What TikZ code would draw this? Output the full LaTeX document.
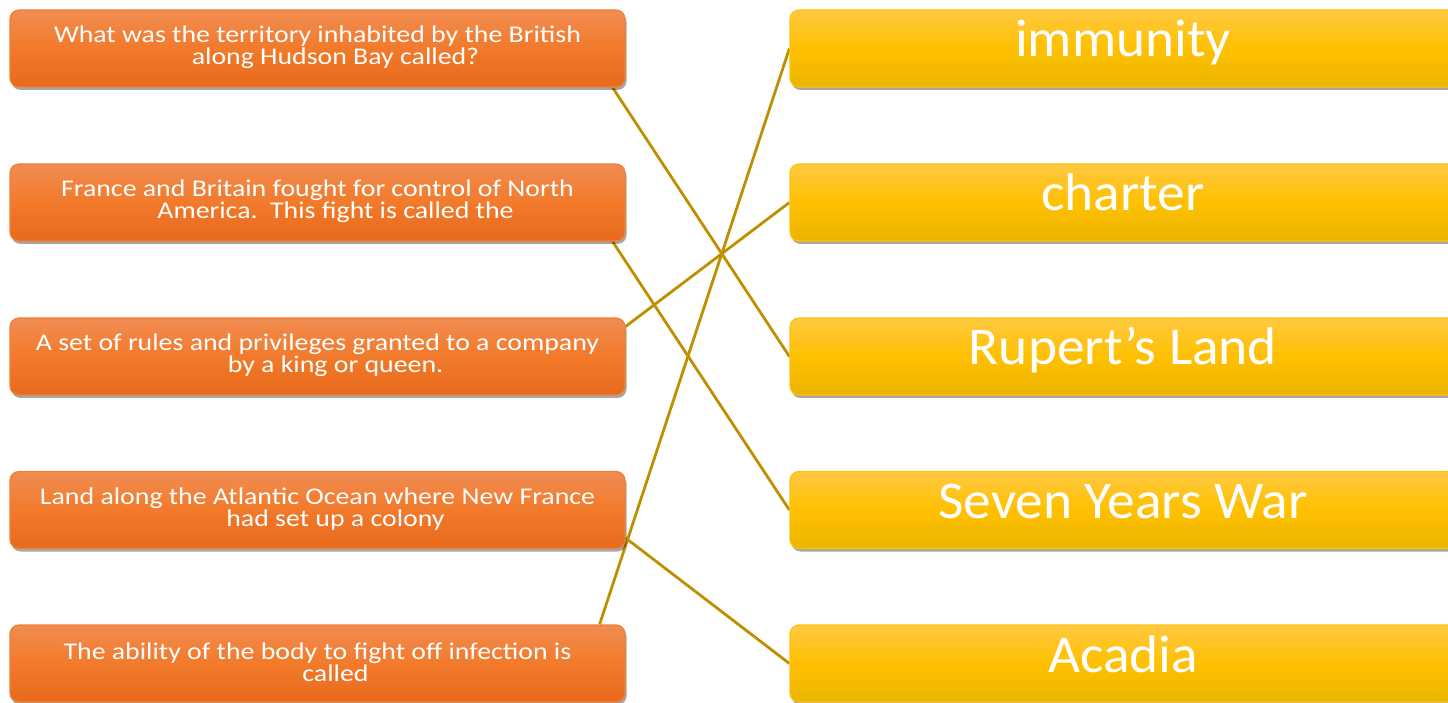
\documentclass[tikz,border=0pt]{standalone}
\usepackage{fontspec}
\setmainfont{Carlito}
\newfontfamily\qfont[FakeStretch=1.16]{Carlito}
\newfontfamily\afont[FakeStretch=1.045]{Carlito}
\usetikzlibrary{shadows,backgrounds,calc}
\definecolor{orTop}{RGB}{241,140,82}
\definecolor{orMid}{RGB}{242,122,42}
\definecolor{orBot}{RGB}{232,106,28}
\definecolor{orBorder}{RGB}{238,128,56}
\definecolor{yeTop}{RGB}{255,201,66}
\definecolor{yeMid}{RGB}{255,192,0}
\definecolor{yeBot}{RGB}{234,181,0}
\definecolor{yeBorder}{RGB}{255,194,10}
\definecolor{linkcol}{RGB}{191,143,0}
\tikzset{
  x=1pt,y=1pt,
  qbox/.style={rounded corners=9pt, minimum width=615pt, minimum height=77pt,
    top color=orTop, bottom color=orBot, middle color=orMid, draw=orBorder, line width=1.2pt,
    drop shadow={shadow xshift=1.5pt, shadow yshift=-3pt, opacity=0.35, fill=black}},
  abox/.style={rounded corners=9pt, minimum width=666pt, minimum height=77pt,
    top color=yeTop, bottom color=yeBot, middle color=yeMid, draw=yeBorder, line width=1.2pt,
    drop shadow={shadow xshift=1.5pt, shadow yshift=-3pt, opacity=0.35, fill=black}},
  qtext/.style={text=white, align=center, font=\qfont\fontsize{24}{22}\selectfont, inner sep=0pt},
  atext/.style={text=white, font=\afont\fontsize{53}{60}\selectfont, inner sep=0pt, text height=34pt, text depth=19pt},
  link/.style={draw=linkcol, line width=2.8pt}
}
\begin{document}
\begin{tikzpicture}
\useasboundingbox (0,0) rectangle (1448,702);
% question boxes
\node[qbox] (q1) at (317.5,653.5) {};
\node[qbox] (q2) at (317.5,499.5) {};
\node[qbox] (q3) at (317.5,345.5) {};
\node[qbox] (q4) at (317.5,192) {};
\node[qbox] (q5) at (317.5,38.5) {};
\node[qtext] (t1) at ($(q1.center)+(0,1)$) {What was the territory inhabited by the British\\\hspace*{36pt}along Hudson Bay called?};
\node[qtext] (t2) at ($(q2.center)+(0,1)$) {France and Britain fought for control of North\\\hspace*{36pt}America.\ \ This fight is called the};
\node[qtext] (t3) at ($(q3.center)+(0,1)$) {A set of rules and privileges granted to a company\\\hspace*{36pt}by a king or queen.};
\node[qtext] (t4) at ($(q4.center)+(0,1)$) {Land along the Atlantic Ocean where New France\\\hspace*{36pt}had set up a colony};
\node[qtext] (t5) at ($(q5.center)+(0,1)$) {The ability of the body to fight off infection is\\\hspace*{36pt}called};
% answer boxes
\node[abox] (a1) at (1123,653.5) {};
\node[abox] (a2) at (1123,499.5) {};
\node[abox] (a3) at (1123,345.5) {};
\node[abox] (a4) at (1123,192) {};
\node[abox] (a5) at (1123,38.5) {};
\node[atext] (b1) at ($(a1.center)+(0,-1)$) {immunity};
\node[atext] (b2) at ($(a2.center)+(0,-1)$) {charter};
\node[atext] (b3) at ($(a3.center)+(0,-1)$) {Rupert’s Land};
\node[atext] (b4) at ($(a4.center)+(0,-1)$) {Seven Years War};
\node[atext] (b5) at ($(a5.center)+(0,-1)$) {Acadia};
% connectors
\begin{pgfonlayer}{background}
\draw[link] ([xshift=-13pt]q1.south east) -- (a3.west);
\draw[link] ([xshift=-13pt]q2.south east) -- (a4.west);
\draw[link] ([yshift=30pt]q3.east) -- (a2.west);
\draw[link] ([yshift=-28pt]q4.east) -- (a5.west);
\draw[link] ([xshift=-26pt]q5.north east) -- (a1.west);
\end{pgfonlayer}
\end{tikzpicture}
\end{document}
